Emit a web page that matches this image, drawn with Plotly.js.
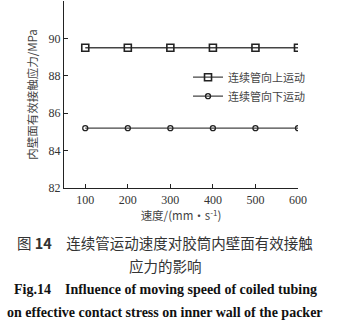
<!DOCTYPE html>
<html><head><meta charset="utf-8">
<script src="https://cdn.plot.ly/plotly-3.0.1.min.js"></script>
<style>html,body{margin:0;padding:0;background:#fff;}#c{width:340px;height:324px;}</style>
</head><body><div id="c"></div>
<script>
const speeds = [100, 200, 300, 400, 500, 600];
const upStress = [89.5, 89.5, 89.5, 89.5, 89.5, 89.5];
const downStress = [85.2, 85.2, 85.2, 85.2, 85.2, 85.2];
const seriesNames = ['连续管向上运动', '连续管向下运动'];
const yTicks = [82, 84, 86, 88, 90, 92];
const xTicks = [100, 200, 300, 400, 500, 600];

const serif = 'Liberation Serif, Times New Roman, serif';
const cjk = 'Noto Sans CJK SC, Liberation Serif, serif';
const lineCol = '#444';

const traces = [
  {x: speeds, y: upStress, name: seriesNames[0], mode: 'lines+markers',
   line: {color: lineCol, width: 1.3},
   marker: {symbol: 'square-open', size: 7, color: '#222', line: {width: 1.6}}},
  {x: speeds, y: downStress, name: seriesNames[1], mode: 'lines+markers',
   line: {color: lineCol, width: 1.3},
   marker: {symbol: 'circle-open', size: 5, color: '#222', line: {width: 1.3}}}
];

const layout = {
  width: 340, height: 324,
  margin: {l: 64, r: 42, t: 1, b: 136},
  paper_bgcolor: '#fff', plot_bgcolor: '#fff',
  showlegend: true,
  legend: {x: 0.53, y: 0.67, xanchor: 'left', yanchor: 'top', bgcolor: 'rgba(0,0,0,0)',
           font: {family: cjk, size: 11, color: '#444'}, tracegroupgap: 0, itemwidth: 30},
  xaxis: {range: [50, 600], tickvals: xTicks, ticks: 'inside', ticklen: 4, tickcolor: '#222',
          showline: true, linecolor: '#222', linewidth: 1.2, showgrid: false, zeroline: false,
          tickfont: {family: serif, size: 12, color: '#333'},
          title: {text: '速度/(mm·s<sup>-1</sup>)', font: {family: cjk, size: 11.5, color: '#444'}, standoff: 4}},
  yaxis: {range: [82, 92], tickvals: yTicks, ticks: 'inside', ticklen: 4, tickcolor: '#222',
          showline: true, linecolor: '#222', linewidth: 1.2, showgrid: false, zeroline: false,
          tickfont: {family: serif, size: 12, color: '#333'},
          title: {text: '内壁面有效接触应力/MPa', font: {family: cjk, size: 11.5, color: '#444'}, standoff: 8}},
  annotations: [
    {xref: 'paper', yref: 'paper', x: 0.432, y: -0.29, xanchor: 'center', yanchor: 'middle', showarrow: false,
     text: '图 <b>14</b>　连续管运动速度对胶筒内壁面有效接触', font: {family: cjk, size: 14.5, color: '#333'}},
    {xref: 'paper', yref: 'paper', x: 0.432, y: -0.415, xanchor: 'center', yanchor: 'middle', showarrow: false,
     text: '应力的影响', font: {family: cjk, size: 14.5, color: '#333'}},
    {xref: 'paper', yref: 'paper', x: 0.432, y: -0.545, xanchor: 'center', yanchor: 'middle', showarrow: false,
     text: '<b>Fig.14　Influence of moving speed of coiled tubing</b>', font: {family: serif, size: 14, color: '#111'}},
    {xref: 'paper', yref: 'paper', x: 0.432, y: -0.665, xanchor: 'center', yanchor: 'middle', showarrow: false,
     text: '<b>on effective contact stress on inner wall of the packer</b>', font: {family: serif, size: 14, color: '#111'}}
  ]
};
Plotly.newPlot('c', traces, layout, {staticPlot: true, displayModeBar: false});
</script></body></html>
